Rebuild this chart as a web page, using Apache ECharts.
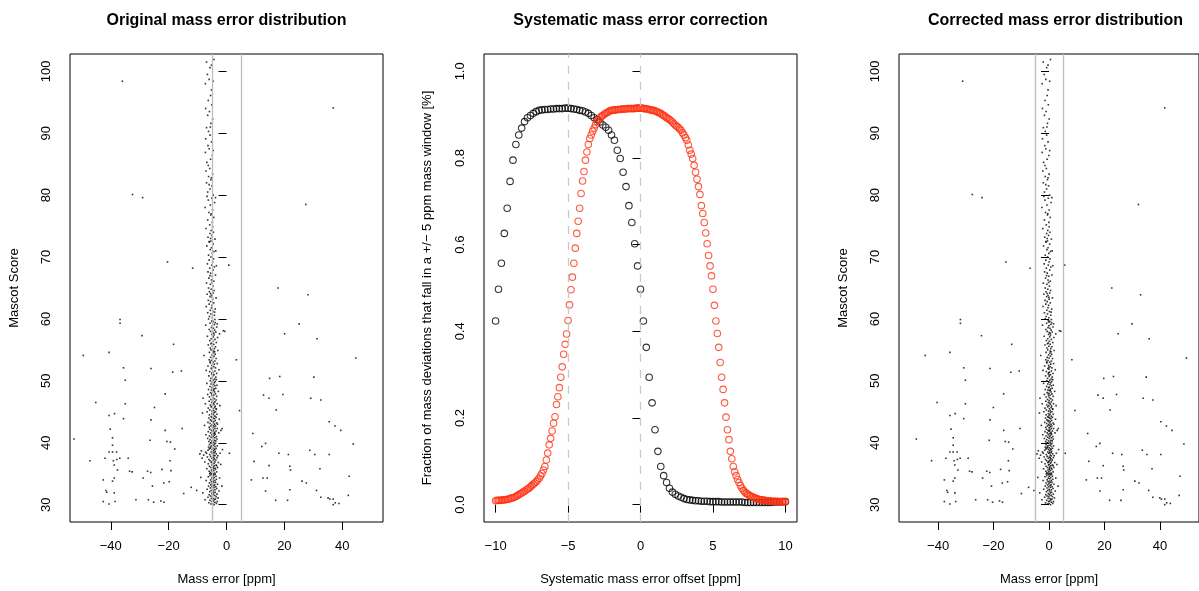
<!DOCTYPE html>
<html><head><meta charset="utf-8">
<script src="https://cdn.jsdelivr.net/npm/echarts@6/dist/echarts.min.js"></script>
<style>html,body{margin:0;padding:0;background:#fff}#c{width:1199px;height:591px}</style>
</head><body><div id="c"></div>
<script>
// ---------- DATA ----------
// Panel titles and axis names
const panelTitles = ['Original mass error distribution', 'Systematic mass error correction', 'Corrected mass error distribution'];
const massErrorTicks = [-40, -20, 0, 20, 40];
const scoreTicks = [30, 40, 50, 60, 70, 80, 90, 100];
const offsetTicks = [-10, -5, 0, 5, 10];
const fractionTicks = [0, 0.2, 0.4, 0.6, 0.8, 1.0];
const windowLines = [-5, 5];          // +/- 5 ppm window (scatter panels)
const referenceLines = [-5, 0];       // dashed lines in middle panel

// Dense band of peptide mass errors [mass error ppm, Mascot score] (original)
const bandPoints = [
[-4.3,30.0],[-5.4,30.1],[-3.5,30.2],[-4.8,30.2],[-6.1,30.3],[-4.0,30.4],[-5.0,30.5],[-3.2,30.5],[-4.6,30.6],[-5.7,30.7],
[-4.2,30.8],[-7.4,30.8],[-3.8,30.9],[-5.2,31.0],[-4.5,31.0],[-2.9,31.1],[-6.4,31.2],[-4.9,31.3],[-3.6,31.3],[-5.5,31.4],
[-4.1,31.5],[-4.7,31.6],[-6.0,31.6],[-3.3,31.7],[-5.1,31.8],[-4.4,31.9],[-8.2,31.9],[-3.9,32.0],[-5.8,32.1],[-4.6,32.2],
[-2.6,32.2],[-5.3,32.3],[-4.0,32.4],[-6.7,32.5],[-4.8,32.5],[-3.4,32.6],[-5.6,32.7],[-4.3,32.8],[-5.0,32.9],[-3.7,32.9],
[-6.2,33.0],[-4.5,33.1],[-5.4,33.2],[-4.1,33.2],[-3.1,33.3],[-4.9,33.4],[-5.9,33.5],[-4.4,33.6],[-3.8,33.6],[-5.2,33.7],
[-4.7,33.8],[-7.0,33.9],[-4.0,33.9],[-5.5,34.0],[-3.5,34.1],[-4.6,34.2],[-5.1,34.3],[-2.4,34.3],[-4.2,34.4],[-6.3,34.5],
[-4.8,34.6],[-3.6,34.6],[-5.7,34.7],[-4.4,34.8],[-5.0,34.9],[-3.9,34.9],[-4.6,35.0],[-5.3,35.0],[-8.9,34.4],[-1.6,33.0],
[-4.1,35.1],[-5.6,35.2],[-3.4,35.3],[-4.9,35.3],[-6.0,35.4],[-4.4,35.5],[-5.2,35.6],[-3.8,35.7],[-4.7,35.7],[-6.8,35.8],
[-4.0,35.9],[-5.4,36.0],[-3.1,36.0],[-4.6,36.1],[-5.9,36.2],[-4.2,36.3],[-5.0,36.4],[-3.6,36.4],[-4.8,36.5],[-6.3,36.6],
[-4.3,36.7],[-2.8,36.8],[-5.3,36.8],[-4.0,36.9],[-7.5,36.9],[-4.9,37.0],[-5.7,37.1],[-3.7,37.2],[-4.5,37.2],[-6.1,37.3],
[-4.2,37.4],[-5.1,37.5],[-8.4,37.5],[-3.3,37.6],[-4.7,37.7],[-6.6,37.7],[-5.5,37.8],[-4.0,37.9],[-7.9,38.0],[-4.4,38.0],
[-5.8,38.1],[-3.5,38.2],[-9.2,38.2],[-4.9,38.3],[-6.9,38.3],[-4.1,38.4],[-7.2,38.5],[-5.3,38.5],[-3.9,38.6],[-8.7,38.7],
[-4.6,38.7],[-6.4,38.8],[-5.0,38.9],[-2.2,38.3],[-4.3,39.0],[-5.6,39.1],[-3.6,39.1],[-4.8,39.2],[-6.2,39.3],[-4.0,39.4],
[-5.2,39.5],[-3.2,39.5],[-4.5,39.6],[-5.9,39.7],[-4.2,39.8],[-4.9,39.9],[-3.8,39.9],[-5.4,40.0],[-1.4,38.9],[-6.0,39.0],
[-4.7,35.9],[-3.0,37.9],[-5.0,36.9],[-4.4,37.6],[-5.8,35.0],[-4.1,38.9],[-3.4,36.3],[-5.5,39.3],[-4.6,38.4],[-2.0,36.5],
[-4.4,40.1],[-6.1,40.2],[-3.7,40.3],[-5.0,40.3],[-4.2,40.4],[-5.7,40.5],[-3.3,40.6],[-4.8,40.7],[-6.5,40.7],[-4.0,40.8],
[-5.3,40.9],[-4.6,41.0],[-3.5,41.0],[-5.9,41.1],[-4.3,41.2],[-5.1,41.3],[-7.1,41.3],[-3.9,41.4],[-4.7,41.5],[-5.5,41.6],
[-2.7,41.6],[-4.1,41.7],[-6.3,41.8],[-4.9,41.9],[-3.6,41.9],[-5.2,42.0],[-4.5,42.1],[-5.8,42.2],[-4.0,42.3],[-3.2,42.3],
[-4.8,42.4],[-6.0,42.5],[-4.3,42.6],[-5.4,42.7],[-3.8,42.7],[-4.6,42.8],[-7.6,42.8],[-5.0,42.9],[-4.1,43.0],[-5.7,43.1],
[-3.4,43.2],[-4.7,43.2],[-6.4,43.3],[-4.4,43.4],[-5.2,43.5],[-3.9,43.6],[-4.9,43.6],[-5.6,43.7],[-2.5,43.8],[-4.2,43.9],
[-6.1,44.0],[-4.6,44.0],[-3.6,44.1],[-5.3,44.2],[-4.0,44.3],[-4.8,44.4],[-5.9,44.5],[-3.3,44.6],[-4.5,44.6],[-5.1,44.7],
[-8.3,44.8],[-4.3,44.9],[-6.7,45.0],[-3.8,45.0],[-1.9,42.0],[-5.5,40.0],[-4.7,41.9],[-3.1,43.0],[-5.0,44.1],[-4.2,41.5],
[-5.0,45.1],[-4.4,45.2],[-5.8,45.3],[-3.5,45.4],[-4.7,45.5],[-6.3,45.6],[-4.1,45.7],[-5.3,45.8],[-3.9,45.9],[-4.9,46.0],
[-5.6,46.1],[-4.3,46.2],[-7.3,46.3],[-3.2,46.3],[-4.6,46.4],[-5.1,46.5],[-4.0,46.6],[-6.0,46.7],[-4.8,46.8],[-3.6,46.9],
[-5.4,47.0],[-4.2,47.1],[-8.1,47.2],[-4.7,47.3],[-5.9,47.4],[-3.4,47.5],[-5.0,47.6],[-4.4,47.7],[-6.5,47.8],[-3.8,47.9],
[-4.9,48.0],[-5.5,48.1],[-4.1,48.2],[-2.8,48.3],[-4.6,48.4],[-5.2,48.5],[-6.2,48.6],[-4.3,48.7],[-3.7,48.8],[-5.0,48.9],
[-4.8,49.0],[-5.7,49.1],[-4.0,49.2],[-3.3,49.3],[-4.5,49.4],[-5.3,49.5],[-6.8,49.6],[-4.2,49.7],[-4.9,49.8],[-3.9,49.9],
[-5.6,50.0],[-2.3,46.0],[-4.4,48.5],[-5.1,47.9],[-3.6,45.5],
[-4.6,50.1],[-4.1,50.3],[-5.4,50.4],[-3.7,50.6],[-4.8,50.7],[-6.1,50.8],[-4.3,51.0],[-5.1,51.1],[-3.4,51.2],[-4.7,51.4],
[-5.8,51.5],[-4.0,51.6],[-7.0,51.7],[-4.9,51.9],[-5.3,52.0],[-3.8,52.1],[-4.4,52.3],[-6.4,52.4],[-5.0,52.5],[-4.2,52.7],
[-3.2,52.8],[-5.6,52.9],[-4.6,53.0],[-4.0,53.2],[-5.2,53.3],[-6.0,53.4],[-3.6,53.6],[-4.8,53.7],[-5.5,53.8],[-4.3,54.0],
[-7.8,54.1],[-5.0,54.2],[-3.9,54.3],[-4.5,54.5],[-5.9,54.6],[-4.1,54.7],[-3.0,54.9],[-5.3,55.0],[-4.7,50.9],[-2.6,51.8],
[-5.7,53.1],[-4.4,54.8],[-5.0,51.3],[-3.5,50.2],[-4.9,52.2],
[-4.2,55.2],[-5.6,55.3],[-3.8,55.5],[-4.9,55.6],[-6.3,55.8],[-4.4,55.9],[-5.1,56.1],[-3.5,56.2],[-4.7,56.4],[-5.8,56.5],
[-4.0,56.7],[-5.3,56.8],[-3.1,57.0],[-4.6,57.1],[-6.6,57.2],[-4.3,57.4],[-5.0,57.5],[-2.4,57.6],[-4.8,57.8],[-3.7,57.9],
[-5.5,58.0],[-4.1,58.2],[-6.0,58.3],[-4.5,58.5],[-5.2,58.6],[-3.4,58.7],[-4.9,58.9],[-7.2,59.0],[-4.2,59.1],[-5.7,59.3],
[-3.9,59.4],[-4.6,59.6],[-5.1,59.7],[-4.0,59.9],[-6.2,60.0],[-1.1,58.1],[-3.2,59.2],[-5.4,56.0],[-4.4,57.7],[-4.9,59.5],
[-4.9,60.2],[-5.9,60.4],[-4.2,60.6],[-5.4,60.8],[-6.5,61.0],[-4.7,61.2],[-5.6,61.4],[-3.9,61.6],[-5.2,61.8],[-7.0,62.0],
[-5.0,62.2],[-6.0,62.4],[-4.4,62.6],[-5.5,62.8],[-6.3,63.0],[-4.8,63.2],[-3.6,63.4],[-5.7,63.6],[-5.2,63.8],[-6.7,64.0],
[-4.6,64.2],[-5.9,64.4],[-4.3,64.6],[-5.3,64.8],[-6.2,65.0],[-4.9,63.5],[-4.1,61.1],[-5.5,64.1],
[-4.7,65.3],[-5.6,65.6],[-6.9,65.8],[-4.4,66.1],[-5.2,66.3],[-6.1,66.6],[-4.9,66.9],[-3.8,67.1],[-5.5,67.4],[-6.4,67.6],
[-4.6,67.9],[-5.8,68.2],[-4.2,68.4],[-5.1,68.7],[-6.6,68.9],[-4.8,69.2],[-6.0,69.5],[-4.5,69.7],[-5.4,70.0],[-3.5,68.6],
[-5.0,65.9],[-5.7,67.0],
[-6.2,70.3],[-4.9,70.6],[-4.3,70.9],[-5.6,71.2],[-5.2,71.5],[-6.8,71.8],[-4.6,72.1],[-5.9,72.4],[-5.4,72.6],[-4.0,72.9],
[-6.4,73.2],[-5.0,73.5],[-5.7,73.8],[-4.5,74.0],[-5.3,74.3],[-7.1,74.6],[-4.8,74.9],[-6.0,72.5],[-3.7,71.0],[-5.5,73.0],
[-5.8,75.2],[-4.9,75.6],[-6.5,76.0],[-4.4,76.4],[-5.4,76.8],[-6.1,77.2],[-4.8,77.6],[-7.4,78.0],[-5.6,78.4],[-4.1,78.8],
[-6.3,79.2],[-5.1,79.5],[-6.7,79.8],[-4.6,80.0],[-5.3,77.0],[-3.8,79.6],
[-6.5,80.5],[-5.7,81.0],[-5.0,81.5],[-6.9,82.0],[-5.4,82.5],[-6.2,83.0],[-4.8,83.4],[-7.1,83.9],[-5.8,84.3],[-6.3,84.8],
[-5.2,82.8],[-6.0,81.7],
[-6.8,85.3],[-5.5,85.8],[-4.9,86.4],[-7.3,86.9],[-6.0,87.5],[-6.4,88.0],[-5.2,88.6],[-7.2,89.1],[-5.7,89.7],[-4.6,87.2],
[-6.2,90.3],[-6.9,90.9],[-5.4,91.6],[-4.8,92.3],[-6.5,92.9],[-5.9,93.5],[-7.2,94.0],[-5.1,94.6],[-5.6,91.0],
[-6.3,95.3],[-5.5,96.1],[-5.2,97.0],[-7.3,98.0],[-6.0,98.7],[-4.6,98.4],[-6.6,99.5],[-5.7,100.6],[-4.3,101.9],[-6.9,101.5],
[-5.2,101.0]
];

// Scattered outliers [mass error ppm, Mascot score] (original)
const outlierPoints = [
[-36.0,98.4],[36.9,94.1],[-32.5,80.1],[-29.0,79.6],[27.4,78.5],[-20.4,69.2],[-11.7,68.2],[0.8,68.7],[17.8,65.0],[28.2,63.9],
[-36.8,59.9],[-36.8,59.3],[25.1,59.2],[-29.2,57.3],[20.1,57.6],[-0.6,58.0],
[-49.5,54.1],[-40.6,54.6],[44.7,53.7],[-18.3,55.9],[31.3,56.8],[-35.6,52.1],[-26.1,52.0],[3.4,53.4],[-35.0,50.1],[-18.6,51.4],
[-15.6,51.6],[14.9,50.4],[18.4,50.7],[30.2,50.6],[-21.2,47.9],[12.8,47.7],[19.5,47.8],[14.7,47.2],[29.1,47.2],[32.6,46.9],
[-45.2,46.5],[-35.0,46.3],[-24.9,45.7],[17.2,45.3],[4.5,45.2],[-40.6,44.4],[-38.7,44.7],[-35.6,43.9],[-26.1,43.7],[35.5,43.4],
[37.5,42.7],[39.5,42.0],[-15.3,42.3],[-40.2,42.2],[-21.2,42.0],[-52.7,40.6],[-39.4,40.8],[-39.4,39.6],[-26.4,40.4],[9.1,41.5],
[12.2,39.4],[13.5,39.9],[43.8,39.8],[-40.6,38.5],[-39.4,38.5],[-38.0,38.5],[-20.6,40.2],[-19.4,40.1],[-17.9,39.0],[18.1,38.3],
[21.4,38.1],[30.5,38.1],[35.5,38.1],[28.8,38.8],[-47.2,37.1],[-42.0,37.5],[-39.1,37.1],[-37.9,37.3],[-36.9,37.5],[-34.0,37.5],
[-19.5,37.1],[-38.8,36.4],[-37.7,35.6],[-33.5,35.4],[-32.6,35.3],[-27.3,35.4],[-26.2,35.2],[-22.3,35.7],[-19.2,35.5],[21.9,36.2],
[22.1,35.6],[32.3,35.8],[9.5,37.0],[14.7,36.3],[-42.6,34.0],[-38.8,34.3],[-39.4,33.8],[-28.8,34.3],[-21.7,33.5],[-19.8,33.7],
[8.6,34.0],[12.6,34.3],[14.1,34.3],[26.1,33.8],[27.6,33.5],[42.4,34.6],[-25.6,33.0],[-41.7,32.3],[-41.4,32.0],[-38.8,31.9],
[-12.2,32.8],[-14.8,31.8],[13.5,32.2],[21.9,32.4],[31.1,32.3],[32.6,31.2],[42.1,31.5],[-42.6,30.5],[-40.6,30.1],[-38.5,30.5],
[-31.3,30.8],[-27.0,30.8],[-25.2,30.4],[-22.7,30.6],[-21.6,30.4],[-10.3,32.3],[17.0,30.7],[21.1,30.7],[35.1,31.1],[35.7,30.9],
[36.9,30.0],[37.6,30.3],[38.9,30.2],[36.9,30.9],[1.0,38.3],[-1.5,42.3]
];

// Systematic offset applied for correction (ppm)
const systematicOffset = -4.85;

// Middle panel: fraction in +/-5 ppm window vs. offset
const offsetOriginal = [
-10,-9.8,-9.6,-9.4,-9.2,-9,-8.8,-8.6,-8.4,-8.2,-8,-7.8,-7.6,-7.4,-7.2,-7,-6.8,-6.6,-6.4,-6.2,
-6,-5.8,-5.6,-5.4,-5.2,-5,-4.8,-4.6,-4.4,-4.2,-4,-3.8,-3.6,-3.4,-3.2,-3,-2.8,-2.6,-2.4,-2.2,
-2,-1.8,-1.6,-1.4,-1.2,-1,-0.8,-0.6,-0.4,-0.2,0,0.2,0.4,0.6,0.8,1,1.2,1.4,1.6,1.8,
2,2.2,2.4,2.6,2.8,3,3.2,3.4,3.6,3.8,4,4.2,4.4,4.6,4.8,5,5.2,5.4,5.6,5.8,
6,6.2,6.4,6.6,6.8,7,7.2,7.4,7.6,7.8,8,8.2,8.4,8.6,8.8,9,9.2,9.4,9.6,9.8,10
];
const fractionOriginal = [
0.424,0.497,0.557,0.626,0.684,0.746,0.795,0.831,0.853,0.869,0.884,0.893,0.898,0.903,0.907,0.910,0.911,0.912,0.912,0.913,
0.913,0.914,0.914,0.914,0.915,0.915,0.914,0.913,0.912,0.910,0.909,0.906,0.903,0.898,0.893,0.889,0.883,0.876,0.871,0.864,
0.853,0.841,0.818,0.799,0.767,0.734,0.690,0.651,0.602,0.551,0.497,0.424,0.363,0.294,0.235,0.173,0.123,0.088,0.067,0.051,
0.038,0.029,0.024,0.020,0.017,0.014,0.012,0.011,0.010,0.009,0.009,0.008,0.008,0.008,0.007,0.007,0.007,0.007,0.006,0.006,
0.006,0.006,0.006,0.006,0.006,0.006,0.005,0.005,0.005,0.005,0.005,0.005,0.005,0.005,0.005,0.005,0.006,0.006,0.006,0.007,0.007
];
const offsetCorrected = [
-10,-9.9,-9.8,-9.7,-9.6,-9.5,-9.4,-9.3,-9.2,-9.1,-9,-8.9,-8.8,-8.7,-8.6,-8.5,-8.4,-8.3,-8.2,-8.1,
-8,-7.9,-7.8,-7.7,-7.6,-7.5,-7.4,-7.3,-7.2,-7.1,-7,-6.9,-6.8,-6.7,-6.6,-6.5,-6.4,-6.3,-6.2,-6.1,
-6,-5.9,-5.8,-5.7,-5.6,-5.5,-5.4,-5.3,-5.2,-5.1,-5,-4.9,-4.8,-4.7,-4.6,-4.5,-4.4,-4.3,-4.2,-4.1,
-4,-3.9,-3.8,-3.7,-3.6,-3.5,-3.4,-3.3,-3.2,-3.1,-3,-2.9,-2.8,-2.7,-2.6,-2.5,-2.4,-2.3,-2.2,-2.1,
-2,-1.9,-1.8,-1.7,-1.6,-1.5,-1.4,-1.3,-1.2,-1.1,-1,-0.9,-0.8,-0.7,-0.6,-0.5,-0.4,-0.3,-0.2,-0.1,
0,0.1,0.2,0.3,0.4,0.5,0.6,0.7,0.8,0.9,1,1.1,1.2,1.3,1.4,1.5,1.6,1.7,1.8,1.9,
2,2.1,2.2,2.3,2.4,2.5,2.6,2.7,2.8,2.9,3,3.1,3.2,3.3,3.4,3.5,3.6,3.7,3.8,3.9,
4,4.1,4.2,4.3,4.4,4.5,4.6,4.7,4.8,4.9,5,5.1,5.2,5.3,5.4,5.5,5.6,5.7,5.8,5.9,
6,6.1,6.2,6.3,6.4,6.5,6.6,6.7,6.8,6.9,7,7.1,7.2,7.3,7.4,7.5,7.6,7.7,7.8,7.9,
8,8.1,8.2,8.3,8.4,8.5,8.6,8.7,8.8,8.9,9,9.1,9.2,9.3,9.4,9.5,9.6,9.7,9.8,9.9,10
];
const fractionCorrected = [
0.009,0.010,0.010,0.010,0.010,0.011,0.011,0.012,0.012,0.013,0.014,0.015,0.016,0.017,0.019,0.021,0.023,0.025,0.027,0.029,
0.031,0.034,0.036,0.038,0.041,0.044,0.047,0.050,0.053,0.057,0.061,0.066,0.072,0.080,0.088,0.103,0.119,0.138,0.153,0.170,
0.188,0.203,0.231,0.249,0.270,0.294,0.318,0.347,0.370,0.394,0.425,0.461,0.496,0.525,0.557,0.592,0.626,0.654,0.684,0.718,
0.747,0.769,0.795,0.814,0.831,0.845,0.853,0.862,0.869,0.877,0.884,0.889,0.893,0.896,0.898,0.901,0.903,0.905,0.907,0.909,
0.910,0.910,0.911,0.911,0.912,0.912,0.912,0.913,0.913,0.913,0.913,0.914,0.914,0.914,0.914,0.914,0.914,0.915,0.915,0.915,
0.915,0.915,0.914,0.914,0.913,0.913,0.912,0.911,0.910,0.910,0.909,0.907,0.906,0.904,0.903,0.900,0.898,0.896,0.893,0.891,
0.889,0.886,0.883,0.879,0.876,0.873,0.871,0.867,0.864,0.858,0.853,0.847,0.841,0.830,0.818,0.809,0.799,0.783,0.767,0.751,
0.734,0.716,0.690,0.672,0.651,0.627,0.602,0.575,0.551,0.528,0.497,0.460,0.424,0.395,0.363,0.328,0.294,0.266,0.235,0.202,
0.173,0.150,0.123,0.106,0.088,0.076,0.067,0.058,0.051,0.044,0.038,0.033,0.029,0.026,0.024,0.022,0.020,0.018,0.017,0.015,
0.014,0.013,0.012,0.011,0.011,0.010,0.010,0.009,0.009,0.009,0.008,0.008,0.008,0.008,0.008,0.007,0.007,0.007,0.007,0.007,0.007
];

// ---------- CHART ----------
const FONT = 'Liberation Sans, Arial, Helvetica, sans-serif';
const TXT = '#000';
const minus = v => String(v).replace('-', '\u2212');

const originalPoints = bandPoints.concat(outlierPoints);
const correctedPoints = originalPoints.map(p => [p[0] - systematicOffset, p[1]]);
const zipXY = (xs, ys) => xs.map((x, i) => [x, ys[i]]);

const grids = [
  {left: 70, top: 54, width: 313, height: 470},
  {left: 484, top: 54, width: 313, height: 470},
  {left: 899, top: 54, width: 313, height: 470}
].map(g => Object.assign(g, {show: true, borderColor: '#000', borderWidth: 1, backgroundColor: 'transparent', containLabel: false}));

function xAx(gi, min, max, ticks, name, fmt) {
  return {
    gridIndex: gi, type: 'value', min: min, max: max,
    axisLine: {show: false},
    axisTick: {show: true, length: 8, customValues: ticks, lineStyle: {color: '#000', width: 1}},
    axisLabel: {customValues: ticks, formatter: fmt, fontSize: 13, color: TXT, fontFamily: FONT, margin: 18},
    splitLine: {show: false},
    name: name, nameLocation: 'middle', nameGap: 51,
    nameTextStyle: {fontSize: 13, color: TXT, fontFamily: FONT}
  };
}
function yAx(gi, min, max, ticks, name, fmt, gap) {
  return {
    gridIndex: gi, type: 'value', min: min, max: max,
    axisLine: {show: false},
    axisTick: {show: true, length: 8, customValues: ticks, lineStyle: {color: '#000', width: 1}},
    axisLabel: {customValues: ticks, formatter: fmt, rotate: 90, fontSize: 13, color: TXT, fontFamily: FONT, margin: 17},
    splitLine: {show: false},
    name: name, nameLocation: 'middle', nameGap: gap,
    nameTextStyle: {fontSize: 13, color: TXT, fontFamily: FONT}
  };
}

const solidLines = {
  silent: true, symbol: ['none', 'none'], label: {show: false},
  lineStyle: {color: '#bdbdbd', type: 'solid', width: 1.3},
  emphasis: {disabled: true}, animation: false,
  data: windowLines.map(v => ({xAxis: v}))
};
const dashedLines = {
  silent: true, symbol: ['none', 'none'], label: {show: false},
  lineStyle: {color: '#c8c8c8', type: [8, 8], width: 1.3},
  emphasis: {disabled: true}, animation: false,
  data: referenceLines.map(v => ({xAxis: v}))
};

const option = {
  animation: false,
  backgroundColor: '#fff',
  grid: grids,
  xAxis: [
    xAx(0, -54.1, 54.1, massErrorTicks, 'Mass error [ppm]', minus),
    xAx(1, -10.8, 10.8, offsetTicks, 'Systematic mass error offset [ppm]', minus),
    xAx(2, -54.1, 54.1, massErrorTicks, 'Mass error [ppm]', minus)
  ],
  yAxis: [
    yAx(0, 27.2, 102.8, scoreTicks, 'Mascot Score', v => String(v), 49),
    yAx(1, -0.04, 1.04, fractionTicks, 'Fraction of mass deviations that fall in a +/\u2212 5 ppm mass window [%]', v => Number(v).toFixed(1), 50),
    yAx(2, 27.2, 102.8, scoreTicks, 'Mascot Score', v => String(v), 49)
  ],
  graphic: panelTitles.map((t, i) => ({
    type: 'text', x: grids[i].left + grids[i].width / 2, y: 21, silent: true,
    style: {text: t, align: 'center', verticalAlign: 'middle', font: 'bold 16px ' + FONT, fill: '#000'}
  })),
  series: [
    {type: 'scatter', xAxisIndex: 0, yAxisIndex: 0, data: originalPoints, symbol: 'rect', symbolSize: 1.6,
     itemStyle: {color: '#000'}, silent: true, markLine: solidLines, z: 3},
    {type: 'scatter', xAxisIndex: 1, yAxisIndex: 1, data: zipXY(offsetOriginal, fractionOriginal), symbol: 'circle', symbolSize: 6.5,
     itemStyle: {color: 'rgba(0,0,0,0)', borderColor: '#000', borderWidth: 1.1}, silent: true, markLine: dashedLines, z: 3},
    {type: 'scatter', xAxisIndex: 1, yAxisIndex: 1, data: zipXY(offsetCorrected, fractionCorrected), symbol: 'circle', symbolSize: 6.5,
     itemStyle: {color: 'rgba(0,0,0,0)', borderColor: '#ff3010', borderWidth: 1.1}, silent: true, z: 4},
    {type: 'scatter', xAxisIndex: 2, yAxisIndex: 2, data: correctedPoints, symbol: 'rect', symbolSize: 1.6,
     itemStyle: {color: '#000'}, silent: true, markLine: solidLines, z: 3}
  ]
};

const chart = echarts.init(document.getElementById('c'), null, {renderer: 'canvas'});
chart.setOption(option);
</script></body></html>
